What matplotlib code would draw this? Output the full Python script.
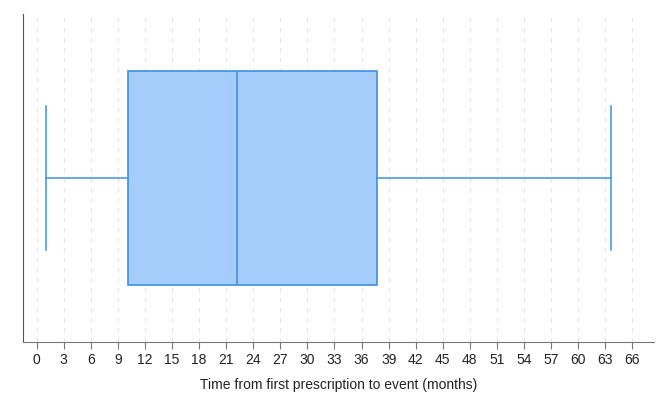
import matplotlib
matplotlib.use("Agg")
import numpy as np
from matplotlib import pyplot as plt

plt.rcParams['font.family'] = ['Liberation Sans', 'DejaVu Sans']

# box plot summary (months)
whisker_low = 1.0
q1 = 10.1
median = 22.2
q3 = 37.7
whisker_high = 63.6
ticks = np.arange(0, 67, 3)

fill = '#a5cdfc'
edge = '#3f8fe3'

fig = plt.figure(figsize=(6.69, 4.01), dpi=100)
ax = fig.add_axes([0.0344, 0.147, 0.9432, 0.818])

stats = [dict(whislo=whisker_low, q1=q1, med=median, q3=q3, whishi=whisker_high, fliers=[])]
ax.bxp(stats, positions=[0.5], widths=0.65, capwidths=0.44, vert=False,
       patch_artist=True, showfliers=False,
       boxprops=dict(facecolor=fill, edgecolor=edge, linewidth=1.2),
       medianprops=dict(color=edge, linewidth=1.2),
       whiskerprops=dict(color=edge, linewidth=1.1),
       capprops=dict(color=edge, linewidth=1.1))

ax.set_ylim(0, 1)
ax.set_xlim(-1.5, 68.4)
ax.set_xticks(ticks)
ax.set_xticklabels([str(t) for t in ticks], fontsize=10, color='#222222')
ax.set_yticks([])
ax.set_xlabel("Time from first prescription to event (months)", fontsize=10,
              color='#222222', labelpad=8)

ax.grid(axis='x', color='#e4e4e4', linestyle=(0, (4, 5)), linewidth=0.8)
ax.set_axisbelow(True)
for s in ['top', 'right']:
    ax.spines[s].set_visible(False)
ax.spines['left'].set_color('#555555')
ax.spines['bottom'].set_color('#777777')
ax.tick_params(axis='x', length=5, color='#777777', pad=3)

fig.savefig("out.png", dpi=100)
